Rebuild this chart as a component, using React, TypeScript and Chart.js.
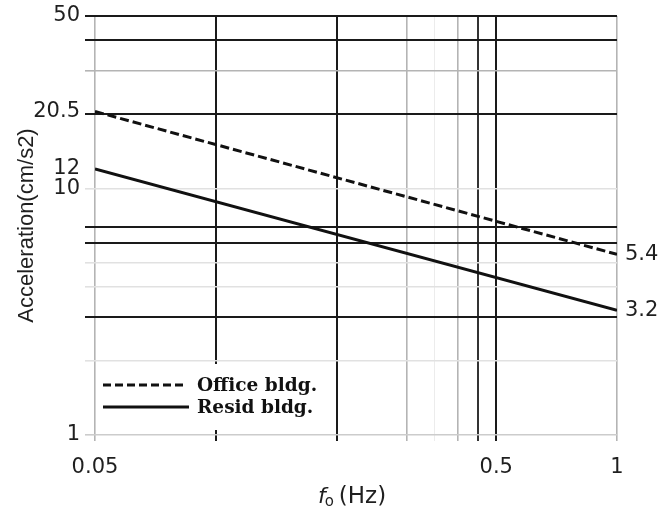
import React, { useEffect, useRef } from "react";
import { Chart, registerables } from "chart.js";

Chart.register(...registerables);

// ---- data ----
const FREQ = [0.05, 1];
const OFFICE = [20.5, 5.4];
const RESID = [12, 3.2];
const SERIES_NAMES = ["Office bldg.", "Resid bldg."];

const X_GRID = [0.05, 0.1, 0.2, 0.3, 0.35, 0.4, 0.45, 0.5, 1];
const X_GRID_KIND = ["gray", "black", "black", "gray", "dot", "gray", "dark", "black", "gray"];
const X_LABELS = [0.05, 0.5, 1];

const Y_GRID = [1, 2, 3, 4, 5, 6, 7, 10, 20, 30, 40, 50];
const Y_GRID_KIND = ["light", "faint", "black", "faint", "faint", "black", "black", "faint", "black", "gray", "black", "black"];
const Y_LABELS = [1, 10, 12, 20.5, 50];
const Y_RIGHT_LABELS = [3.2, 5.4];

const X_TITLE_MAIN = "f";
const X_TITLE_SUB = "o";
const X_TITLE_REST = "(Hz)";
const Y_TITLE = "Acceleration(cm/s2)";

// ---- styles ----
const KIND_COLOR: Record<string, string> = {
  black: "#1a1a1a",
  dark: "#333333",
  gray: "#b4b4b4",
  light: "#cccccc",
  faint: "#e1e1e1",
  dot: "#ececec",
  none: "rgba(0,0,0,0)",
};
const KIND_WIDTH: Record<string, number> = {
  black: 2,
  dark: 2,
  gray: 1.6,
  light: 1.6,
  faint: 1.6,
  dot: 1,
  none: 1,
};
const TICK_FONT = { family: "'DejaVu Sans', sans-serif", size: 21 };
const TEXT_COLOR = "#1f1f1f";

function xKind(v: number) {
  const i = X_GRID.indexOf(v);
  return i >= 0 ? X_GRID_KIND[i] : "none";
}
function yKind(v: number) {
  const i = Y_GRID.indexOf(v);
  return i >= 0 ? Y_GRID_KIND[i] : "none";
}

const legendPlugin = {
  id: "insideLegend",
  afterDatasetsDraw(chart: any) {
    const { ctx, chartArea } = chart;
    const left = chartArea.left;
    const bottom = chartArea.bottom;
    ctx.save();
    ctx.fillStyle = "#ffffff";
    ctx.fillRect(left + 2, bottom - 71, 238, 66);
    const rows = [
      { y: bottom - 50, dash: [8, 4], len: 82, name: SERIES_NAMES[0] },
      { y: bottom - 28, dash: [], len: 86, name: SERIES_NAMES[1] },
    ];
    ctx.strokeStyle = "#111";
    ctx.lineWidth = 2.8;
    ctx.fillStyle = "#111";
    ctx.font = "bold 18.5px 'DejaVu Serif', serif";
    ctx.textBaseline = "middle";
    ctx.textAlign = "left";
    rows.forEach((r) => {
      ctx.setLineDash(r.dash);
      ctx.beginPath();
      ctx.moveTo(left + 8, r.y);
      ctx.lineTo(left + 8 + r.len, r.y);
      ctx.stroke();
      ctx.fillText(r.name, left + 102, r.y + 1);
    });
    ctx.restore();
  },
};

const xTitlePlugin = {
  id: "xTitle",
  afterDraw(chart: any) {
    const { ctx, chartArea } = chart;
    const cx = (chartArea.left + chartArea.right) / 2 - 4;
    const y = 497;
    ctx.save();
    ctx.fillStyle = TEXT_COLOR;
    ctx.textBaseline = "middle";
    ctx.textAlign = "left";
    const mainFont = "italic 22px 'DejaVu Sans', sans-serif";
    const subFont = "15px 'DejaVu Sans', sans-serif";
    const restFont = "23px 'DejaVu Sans', sans-serif";
    ctx.font = mainFont;
    const w1 = ctx.measureText(X_TITLE_MAIN).width;
    ctx.font = subFont;
    const w2 = ctx.measureText(X_TITLE_SUB).width;
    ctx.font = restFont;
    const w3 = ctx.measureText(X_TITLE_REST).width;
    const gap = 4;
    let x = cx - (w1 + w2 + gap + w3) / 2;
    ctx.font = mainFont;
    ctx.fillText(X_TITLE_MAIN, x, y);
    x += w1;
    ctx.font = subFont;
    ctx.fillText(X_TITLE_SUB, x - 1, y + 5);
    x += w2 + gap;
    ctx.font = restFont;
    ctx.fillText(X_TITLE_REST, x, y);
    ctx.restore();
  },
};

export default function App() {
  const ref = useRef<HTMLCanvasElement | null>(null);

  useEffect(() => {
    if (!ref.current) return;
    const chart = new Chart(ref.current, {
      type: "line",
      data: {
        datasets: [
          {
            label: SERIES_NAMES[0],
            data: FREQ.map((f, i) => ({ x: f, y: OFFICE[i] })),
            borderColor: "#111",
            borderWidth: 3,
            borderDash: [9, 4],
            pointRadius: 0,
            fill: false,
            yAxisID: "y",
          },
          {
            label: SERIES_NAMES[1],
            data: FREQ.map((f, i) => ({ x: f, y: RESID[i] })),
            borderColor: "#111",
            borderWidth: 3,
            pointRadius: 0,
            fill: false,
            yAxisID: "y",
          },
        ],
      },
      options: {
        animation: false,
        responsive: true,
        maintainAspectRatio: false,
        layout: { padding: { top: 16, left: 0, right: 0, bottom: 0 } },
        plugins: {
          legend: { display: false },
          tooltip: { enabled: false },
        },
        scales: {
          x: {
            type: "logarithmic",
            position: "bottom",
            min: 0.05,
            max: 1,
            afterBuildTicks: (s: any) => {
              s.ticks = X_GRID.map((v) => ({ value: v }));
            },
            afterFit: (s: any) => {
              s.height = 73;
              s.paddingLeft = 0;
              s.paddingRight = 0;
            },
            border: { display: false },
            grid: {
              color: (c: any) => KIND_COLOR[xKind(c.tick?.value)],
              tickColor: (c: any) => KIND_COLOR[xKind(c.tick?.value)],
              lineWidth: (c: any) => KIND_WIDTH[xKind(c.tick?.value)],
              tickWidth: (c: any) => KIND_WIDTH[xKind(c.tick?.value)],
              tickLength: 6,
              drawTicks: true,
            },
            ticks: {
              autoSkip: false,
              maxRotation: 0,
              padding: 14,
              color: TEXT_COLOR,
              font: TICK_FONT,
              callback: (v: any) => (X_LABELS.includes(Number(v)) ? String(v) : ""),
            },
          },
          y: {
            type: "logarithmic",
            position: "left",
            min: 1,
            max: 50,
            afterBuildTicks: (s: any) => {
              const vals = Array.from(new Set([...Y_GRID, ...Y_LABELS])).sort((a, b) => a - b);
              s.ticks = vals.map((v) => ({ value: v }));
            },
            afterFit: (s: any) => {
              s.width = 95;
              s.paddingTop = 0;
              s.paddingBottom = 0;
            },
            border: { display: false },
            grid: {
              color: (c: any) => KIND_COLOR[yKind(c.tick?.value)],
              tickColor: (c: any) => KIND_COLOR[yKind(c.tick?.value)],
              lineWidth: (c: any) => KIND_WIDTH[yKind(c.tick?.value)],
              tickWidth: (c: any) => KIND_WIDTH[yKind(c.tick?.value)],
              tickLength: 10,
              drawTicks: true,
            },
            ticks: {
              autoSkip: false,
              padding: 5,
              color: TEXT_COLOR,
              font: TICK_FONT,
              callback: (v: any) => (Y_LABELS.includes(Number(v)) ? String(v) : ""),
            },
            title: {
              display: true,
              text: Y_TITLE,
              color: TEXT_COLOR,
              font: { family: "'Liberation Sans', Arial, sans-serif", size: 22 },
              padding: { top: 14, bottom: 0 },
            },
          },
          yRight: {
            type: "logarithmic",
            position: "right",
            min: 1,
            max: 50,
            afterBuildTicks: (s: any) => {
              s.ticks = Y_RIGHT_LABELS.map((v) => ({ value: v }));
            },
            afterFit: (s: any) => {
              s.width = 46;
              s.paddingTop = 0;
              s.paddingBottom = 0;
            },
            border: { display: false },
            grid: { display: false, drawTicks: false },
            ticks: {
              autoSkip: false,
              padding: 8,
              color: TEXT_COLOR,
              font: TICK_FONT,
              callback: (v: any) => String(v),
            },
          },
        },
      } as any,
      plugins: [legendPlugin, xTitlePlugin],
    });
    return () => chart.destroy();
  }, []);

  return (
    <div style={{ position: "fixed", left: 0, top: 0, width: 663, height: 508, background: "#fff" }}>
      <canvas ref={ref} />
    </div>
  );
}
